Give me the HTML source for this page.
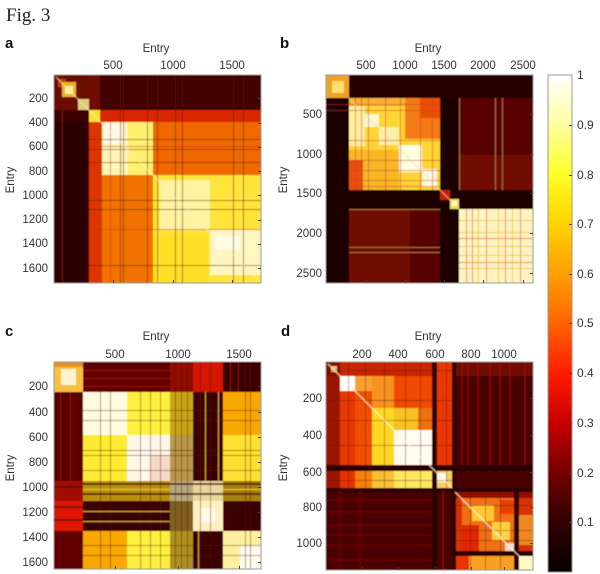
<!DOCTYPE html>
<html><head><meta charset="utf-8"><style>
html,body{margin:0;padding:0;background:#fff;}
svg{display:block;}
.t{font-family:"Liberation Sans",Arial,sans-serif;font-size:11.5px;fill:#333;}
.cb{font-family:"Liberation Sans",Arial,sans-serif;font-size:12px;fill:#333;}
.L{font-family:"Liberation Sans",Arial,sans-serif;font-size:15px;font-weight:bold;fill:#111;}
</style></head><body>
<svg width="600" height="574" viewBox="0 0 600 574" xmlns="http://www.w3.org/2000/svg">
<defs>
<linearGradient id="hot" x1="0" y1="0" x2="0" y2="1">
<stop offset="0" stop-color="#ffffff"/>
<stop offset="0.1" stop-color="#ffffa0"/>
<stop offset="0.2" stop-color="#ffff28"/>
<stop offset="0.28" stop-color="#ffdc00"/>
<stop offset="0.4" stop-color="#ffa000"/>
<stop offset="0.5" stop-color="#ff6400"/>
<stop offset="0.6" stop-color="#ff1c00"/>
<stop offset="0.7" stop-color="#c80000"/>
<stop offset="0.8" stop-color="#740000"/>
<stop offset="0.9" stop-color="#300000"/>
<stop offset="1" stop-color="#080000"/>
</linearGradient>
<filter id="bl" x="0" y="0" width="1" height="1"><feGaussianBlur stdDeviation="0.5"/></filter>
</defs>

<text x="6" y="21" style="font-family:'Liberation Serif',serif;font-size:19px;fill:#222;">Fig. 3</text>

<!-- ================= PANEL A ================= -->
<text class="L" x="5" y="48">a</text>
<text class="t" x="156" y="52" text-anchor="middle">Entry</text>
<text class="t" x="113" y="69" text-anchor="middle">500</text>
<text class="t" x="173" y="69" text-anchor="middle">1000</text>
<text class="t" x="232" y="69" text-anchor="middle">1500</text>
<g class="t" text-anchor="end">
<text x="48" y="102">200</text><text x="48" y="126">400</text><text x="48" y="150">600</text><text x="48" y="175">800</text>
<text x="48" y="199">1000</text><text x="48" y="223">1200</text><text x="48" y="247">1400</text><text x="48" y="272">1600</text>
</g>
<text class="t" transform="translate(14,180) rotate(-90)" text-anchor="middle">Entry</text>
<g filter="url(#bl)">
<rect x="54" y="75" width="207" height="208" fill="#2a0200"/>
<rect x="89" y="75" width="172" height="35" fill="#420600"/>
<rect x="54" y="75" width="35" height="35" fill="#6a0a00"/>
<rect x="58" y="79" width="8" height="8" fill="#c04010"/>
<rect x="62" y="82" width="14" height="15" fill="#f0b020"/>
<rect x="65" y="86" width="8" height="8" fill="#fff0a0"/>
<rect x="78" y="99" width="11" height="11" fill="#e0c878"/>
<rect x="89" y="75" width="11" height="35" fill="#701000"/>
<rect x="54" y="110" width="35" height="12" fill="#3a0200"/>
<rect x="100" y="110" width="161" height="12" fill="#d82800"/>
<rect x="89" y="122" width="13" height="161" fill="#dc3400"/>
<rect x="89" y="110" width="11" height="12" fill="#f8e030"/>
<rect x="102" y="122" width="51" height="53" fill="#fff6b8"/>
<rect x="128" y="122" width="25" height="53" fill="#fff070"/>
<rect x="104" y="124" width="20" height="20" fill="#fffbe8"/>
<rect x="153" y="122" width="108" height="53" fill="#f06800"/>
<rect x="102" y="175" width="51" height="108" fill="#f27200"/>
<rect x="153" y="175" width="108" height="108" fill="#ffe43a"/>
<rect x="160" y="180" width="50" height="50" fill="#fff2a0"/>
<rect x="210" y="230" width="51" height="45" fill="#fff6c0"/>
<rect x="215" y="236" width="25" height="14" fill="#fffce8"/>
<rect x="153" y="235" width="55" height="48" fill="#ffe028"/>
<g stroke="#5a1a00" stroke-opacity="0.55" stroke-width="1">
<path d="M120.5 75V283M123.5 75V283M147.5 75V283M157.5 75V283M175.5 75V283M182.5 75V283M233.5 75V283M243.5 75V283"/>
<path d="M89 139.5H261M89 149.5H261M89 162.5H261M89 200.5H261M89 209.5H261M89 265.5H261"/>
</g>
<g stroke="#c03020" stroke-opacity="0.5" stroke-width="1">
<path d="M110.5 110V283M62.5 110V283M89 146.5H261M89 229.5H261"/>
</g>
<path d="M56 77L150 172L258 280" stroke="#fff4c0" stroke-opacity="0.6" stroke-width="1.2" fill="none"/>
</g>
<rect x="54" y="75" width="207" height="208" fill="none" stroke="#999" stroke-width="1"/>
<g stroke="#444" stroke-width="1"><path d="M113.5 283V280M173.5 283V280M232.5 283V280M261 98.5H258M261 123.5H258M261 147.5H258M261 171.5H258M261 195.5H258M261 220.5H258M261 244.5H258M261 268.5H258"/></g>

<!-- ================= PANEL B ================= -->
<text class="L" x="280" y="48">b</text>
<text class="t" x="428" y="52" text-anchor="middle">Entry</text>
<g class="t" text-anchor="middle">
<text x="366" y="69">500</text><text x="405" y="69">1000</text><text x="444" y="69">1500</text><text x="483" y="69">2000</text><text x="523" y="69">2500</text>
</g>
<g class="t" text-anchor="end">
<text x="322" y="118">500</text><text x="322" y="158">1000</text><text x="322" y="197">1500</text><text x="322" y="237">2000</text><text x="322" y="277">2500</text>
</g>
<text class="t" transform="translate(287,180) rotate(-90)" text-anchor="middle">Entry</text>
<g filter="url(#bl)">
<rect x="326" y="75" width="207" height="208" fill="#1a0000"/>
<rect x="349" y="75" width="184" height="23" fill="#280200"/>
<rect x="326" y="75" width="23" height="23" fill="#f0a020"/>
<rect x="332" y="81" width="12" height="12" fill="#ffe070"/>
<rect x="349" y="98" width="91" height="92" fill="#ffd434"/>
<rect x="349" y="98" width="91" height="8" fill="#f8b030"/>
<rect x="405" y="98" width="35" height="41" fill="#f47a18"/>
<rect x="420" y="98" width="20" height="20" fill="#ea5000"/>
<rect x="349" y="106" width="16" height="40" fill="#fff0a0"/>
<rect x="349" y="150" width="50" height="40" fill="#f8b828"/>
<rect x="349" y="160" width="14" height="30" fill="#e85010"/>
<rect x="365" y="114" width="14" height="13" fill="#fff8d0"/>
<rect x="379" y="127" width="20" height="18" fill="#fff0a8"/>
<rect x="399" y="145" width="23" height="27" fill="#fffde0"/>
<rect x="422" y="169" width="15" height="18" fill="#fff8e0"/>
<rect x="459" y="98" width="74" height="92" fill="#560500"/>
<rect x="459" y="155" width="74" height="35" fill="#700800"/>
<rect x="349" y="209" width="61" height="74" fill="#6e0800"/>
<rect x="410" y="209" width="30" height="74" fill="#560500"/>
<rect x="459" y="209" width="74" height="74" fill="#fff4c0"/>
<rect x="440" y="190" width="10" height="10" fill="#c82000"/>
<rect x="450" y="199" width="9" height="10" fill="#f0e040"/>
<rect x="452" y="201" width="5" height="5" fill="#fffbd0"/>
<g stroke="#c84020" stroke-opacity="0.55" stroke-width="1">
<path d="M355.5 98V190M361.5 98V190M368.5 98V190M385.5 98V190M400.5 98V190M420.5 98V190M432.5 98V190"/>
<path d="M349 104.5H440M349 110.5H440M349 140.5H440M349 160.5H440M349 170.5H440M349 180.5H440M349 186.5H440M326 104.5H349M326 110.5H349"/>
</g>
<g stroke="#e05838" stroke-opacity="0.7" stroke-width="1">
<path d="M466.5 209V283M472.5 209V283M486.5 209V283M505.5 209V283M520.5 209V283M459 238.5H533M459 262.5H533"/>
</g>
<g stroke="#f0c030" stroke-opacity="0.85" stroke-width="1">
<path d="M459 220.5H533M459 232.5H533M459 246.5H533M459 255.5H533M459 268.5H533M498.5 209V283M478.5 209V283M512.5 209V283"/>
</g>
<g stroke="#c09040" stroke-opacity="0.75" stroke-width="1">
<path d="M495.5 98V190M502.5 98V190M349 247.5H440M349 252.5H440M459.5 98V190M349 209.5H440"/>
</g>
<path d="M349 98L440 190L459 209" stroke="#e8e0b0" stroke-opacity="0.6" stroke-width="1.2" fill="none"/>
</g>
<rect x="326" y="75" width="207" height="208" fill="none" stroke="#999" stroke-width="1"/>
<g stroke="#444" stroke-width="1"><path d="M366.5 283V280M405.5 283V280M444.5 283V280M483.5 283V280M523.5 283V280M533 114.5H530M533 154.5H530M533 193.5H530M533 233.5H530M533 273.5H530"/></g>

<!-- ================= PANEL C ================= -->
<text class="L" x="5" y="336">c</text>
<text class="t" x="156" y="340" text-anchor="middle">Entry</text>
<g class="t" text-anchor="middle">
<text x="115" y="358">500</text><text x="178" y="358">1000</text><text x="239" y="358">1500</text>
</g>
<g class="t" text-anchor="end">
<text x="48" y="390">200</text><text x="48" y="416">400</text><text x="48" y="441">600</text><text x="48" y="466">800</text>
<text x="48" y="491">1000</text><text x="48" y="516">1200</text><text x="48" y="541">1400</text><text x="48" y="566">1600</text>
</g>
<text class="t" transform="translate(14,468) rotate(-90)" text-anchor="middle">Entry</text>
<g filter="url(#bl)">
<rect x="54" y="362" width="29" height="30" fill="#f8c040"/>
<rect x="61" y="369" width="15" height="16" fill="#fff4d0"/>
<rect x="54" y="362" width="29" height="5" fill="#e89020"/>
<rect x="83" y="362" width="87" height="30" fill="#600500"/>
<rect x="170" y="362" width="23" height="30" fill="#900a00"/>
<rect x="193" y="362" width="30" height="30" fill="#d41800"/>
<rect x="223" y="362" width="38" height="30" fill="#3e0000"/>
<rect x="54" y="392" width="29" height="89" fill="#5a0000"/>
<rect x="54" y="481" width="29" height="20" fill="#a00c00"/>
<rect x="54" y="501" width="29" height="30" fill="#e01800"/>
<rect x="54" y="531" width="29" height="38" fill="#600500"/>
<rect x="83" y="392" width="44" height="43" fill="#fffbe0"/>
<rect x="127" y="392" width="43" height="43" fill="#fff040"/>
<rect x="170" y="392" width="23" height="43" fill="#c8a418"/>
<rect x="193" y="392" width="30" height="89" fill="#3a0000"/>
<rect x="223" y="392" width="38" height="43" fill="#f8a800"/>
<rect x="83" y="435" width="44" height="46" fill="#ffec30"/>
<rect x="127" y="435" width="43" height="46" fill="#fff8e8"/>
<rect x="150" y="455" width="20" height="26" fill="#f8d8c8"/>
<rect x="170" y="435" width="23" height="46" fill="#b89848"/>
<rect x="223" y="435" width="38" height="46" fill="#ffe030"/>
<rect x="83" y="481" width="87" height="20" fill="#b89010"/>
<rect x="170" y="481" width="23" height="20" fill="#b8a880"/>
<rect x="193" y="481" width="30" height="20" fill="#e8d8a0"/>
<rect x="223" y="481" width="38" height="20" fill="#a88010"/>
<rect x="83" y="501" width="87" height="30" fill="#3a0000"/>
<rect x="170" y="501" width="23" height="30" fill="#806020"/>
<rect x="193" y="501" width="30" height="30" fill="#fff0c0"/>
<rect x="200" y="508" width="15" height="15" fill="#fffbe8"/>
<rect x="223" y="501" width="38" height="30" fill="#3a0000"/>
<rect x="83" y="531" width="44" height="38" fill="#f8a800"/>
<rect x="127" y="531" width="43" height="38" fill="#fff040"/>
<rect x="170" y="531" width="23" height="38" fill="#b09020"/>
<rect x="193" y="531" width="30" height="38" fill="#3a0000"/>
<rect x="223" y="531" width="38" height="38" fill="#fff0a0"/>
<rect x="240" y="545" width="21" height="24" fill="#fffcf0"/>
<g stroke="#4a1000" stroke-opacity="0.45" stroke-width="1">
<path d="M100.5 392V569M110.5 392V569M140.5 392V569M150.5 392V569M160.5 392V569M175.5 362V569M181.5 362V569M187.5 362V569M200.5 362V569M210.5 362V569M245.5 362V569M250.5 362V569"/>
<path d="M83 410.5H261M83 420.5H261M83 450.5H261M83 455.5H261M83 470.5H261M83 545.5H261M83 555.5H261"/>
</g>
<g stroke="#401000" stroke-opacity="0.7" stroke-width="2">
<path d="M83 484H261M83 494H261M54 487H83M54 507H83M54 520H83"/>
</g>
<g stroke="#f0d030" stroke-opacity="0.8" stroke-width="1.2">
<path d="M83 489.5H170M83 511.5H170M83 521.5H170M223 489.5H261M205.5 392V481M218.5 392V481M198.5 531V569"/>
</g>
<g stroke="#c81000" stroke-opacity="0.6" stroke-width="1">
<path d="M83 370.5H170M83 378.5H170M83 386.5H170M60.5 392V481M70.5 392V481M230.5 362V392M238.5 362V392"/>
</g>
</g>
<rect x="54" y="362" width="207" height="207" fill="none" stroke="#999" stroke-width="1"/>
<g stroke="#444" stroke-width="1"><path d="M115.5 569V566M178.5 569V566M239.5 569V566M261 386.5H258M261 412.5H258M261 437.5H258M261 462.5H258M261 487.5H258M261 512.5H258M261 537.5H258M261 562.5H258"/></g>

<!-- ================= PANEL D ================= -->
<text class="L" x="281" y="336">d</text>
<text class="t" x="428" y="340" text-anchor="middle">Entry</text>
<g class="t" text-anchor="middle">
<text x="362" y="358">200</text><text x="398" y="358">400</text><text x="435" y="358">600</text><text x="471" y="358">800</text><text x="504" y="358">1000</text>
</g>
<g class="t" text-anchor="end">
<text x="322" y="402">200</text><text x="322" y="439">400</text><text x="322" y="476">600</text><text x="322" y="511">800</text><text x="322" y="547">1000</text>
</g>
<text class="t" transform="translate(287,468) rotate(-90)" text-anchor="middle">Entry</text>
<g filter="url(#bl)">
<rect x="326" y="362" width="207" height="208" fill="#480000"/>
<rect x="326" y="362" width="126" height="128" fill="#e83800"/>
<rect x="326" y="362" width="14" height="128" fill="#9a1400"/>
<rect x="326" y="362" width="126" height="14" fill="#c82800"/>
<rect x="326" y="362" width="14" height="14" fill="#801000"/>
<rect x="331" y="366" width="6" height="6" fill="#e8c060"/>
<rect x="340" y="376" width="15" height="15" fill="#ffffff"/>
<rect x="355" y="376" width="17" height="15" fill="#f8a030"/>
<rect x="355" y="391" width="17" height="74" fill="#f05000"/>
<rect x="372" y="376" width="60" height="32" fill="#f04800"/>
<rect x="372" y="376" width="22" height="32" fill="#f89020"/>
<rect x="372" y="408" width="22" height="57" fill="#ffd820"/>
<rect x="394" y="408" width="38" height="22" fill="#f8c020"/>
<rect x="418" y="408" width="14" height="22" fill="#f07010"/>
<rect x="394" y="430" width="38" height="35" fill="#fffcf0"/>
<rect x="340" y="471" width="32" height="19" fill="#e83000"/>
<rect x="355" y="471" width="17" height="19" fill="#f88010"/>
<rect x="372" y="471" width="22" height="19" fill="#f8c030"/>
<rect x="394" y="471" width="38" height="19" fill="#ffe860"/>
<rect x="437" y="362" width="15" height="103" fill="#e83800"/>
<rect x="437" y="471" width="15" height="19" fill="#f8d060"/>
<rect x="437" y="473" width="9" height="9" fill="#fffbe8"/>
<rect x="452" y="362" width="81" height="128" fill="#480000"/>
<rect x="452" y="362" width="81" height="14" fill="#700800"/>
<rect x="326" y="490" width="126" height="80" fill="#480000"/>
<rect x="452" y="490" width="81" height="80" fill="#d83000"/>
<rect x="452" y="490" width="81" height="8" fill="#901000"/>
<rect x="462" y="498" width="53" height="53" fill="#f07018"/>
<rect x="472" y="505" width="22" height="16" fill="#ffc830"/>
<rect x="492" y="522" width="18" height="18" fill="#ffd040"/>
<rect x="462" y="525" width="17" height="26" fill="#e02800"/>
<rect x="500" y="500" width="14" height="14" fill="#e84000"/>
<rect x="519" y="515" width="14" height="30" fill="#f08820"/>
<rect x="455" y="556" width="59" height="14" fill="#f8a020"/>
<rect x="455" y="556" width="14" height="14" fill="#e83000"/>
<rect x="519" y="556" width="14" height="14" fill="#fff8c0"/>
<rect x="505" y="543" width="9" height="8" fill="#f8d8d0"/>
<rect x="432" y="362" width="5" height="208" fill="#2a0000"/>
<rect x="326" y="465" width="207" height="6" fill="#2a0000"/>
<rect x="452" y="362" width="4" height="208" fill="#2a0000"/>
<rect x="326" y="488" width="207" height="4" fill="#2a0000"/>
<rect x="514" y="490" width="5" height="80" fill="#2a0000"/>
<rect x="452" y="551" width="81" height="5" fill="#2a0000"/>
<g stroke="#5a1000" stroke-opacity="0.4" stroke-width="1">
<path d="M348.5 362V490M365.5 362V490M384.5 362V490M405.5 362V490M420.5 362V490M446.5 362V490"/>
<path d="M326 370.5H452M326 400.5H452M326 420.5H452M326 445.5H452M326 480.5H452M452 505.5H533M452 530.5H533M452 540.5H533M470.5 492V570M485.5 492V570M500.5 492V570"/>
</g>
<g stroke="#a01000" stroke-opacity="0.75" stroke-width="1.5">
<path d="M462 362V465M468 362V465M478 362V465M490 362V465M500 362V465M510 362V465M525 362V465M443 490V570"/>
</g>
<g stroke="#780800" stroke-opacity="0.8" stroke-width="1.5">
<path d="M326 500H432M326 512H432M326 525H432M326 535H432M326 545H432M326 560H432M340 490V570M360 490V570"/>
</g>
<path d="M328 364L452 488M455 492L533 570" stroke="#fff8d0" stroke-opacity="0.7" stroke-width="1.5" fill="none"/>
</g>
<rect x="326" y="362" width="207" height="208" fill="none" stroke="#999" stroke-width="1"/>
<g stroke="#444" stroke-width="1"><path d="M362.5 570V567M398.5 570V567M435.5 570V567M471.5 570V567M504.5 570V567M533 398.5H530M533 435.5H530M533 472.5H530M533 507.5H530M533 543.5H530"/></g>

<!-- ================= COLORBAR ================= -->
<rect x="548" y="75" width="24" height="497" fill="url(#hot)" stroke="#999" stroke-width="1"/>
<g stroke="#444" stroke-width="1"><path d="M572 125.5H569M572 175.5H569M572 224.5H569M572 274.5H569M572 323.5H569M572 373.5H569M572 423.5H569M572 473.5H569M572 522.5H569"/></g>
<g class="cb">
<text x="577" y="79">1</text>
<text x="577" y="129">0.9</text>
<text x="577" y="179">0.8</text>
<text x="577" y="228">0.7</text>
<text x="577" y="278">0.6</text>
<text x="577" y="327">0.5</text>
<text x="577" y="377">0.4</text>
<text x="577" y="427">0.3</text>
<text x="577" y="477">0.2</text>
<text x="577" y="526">0.1</text>
</g>
</svg>
</body></html>
